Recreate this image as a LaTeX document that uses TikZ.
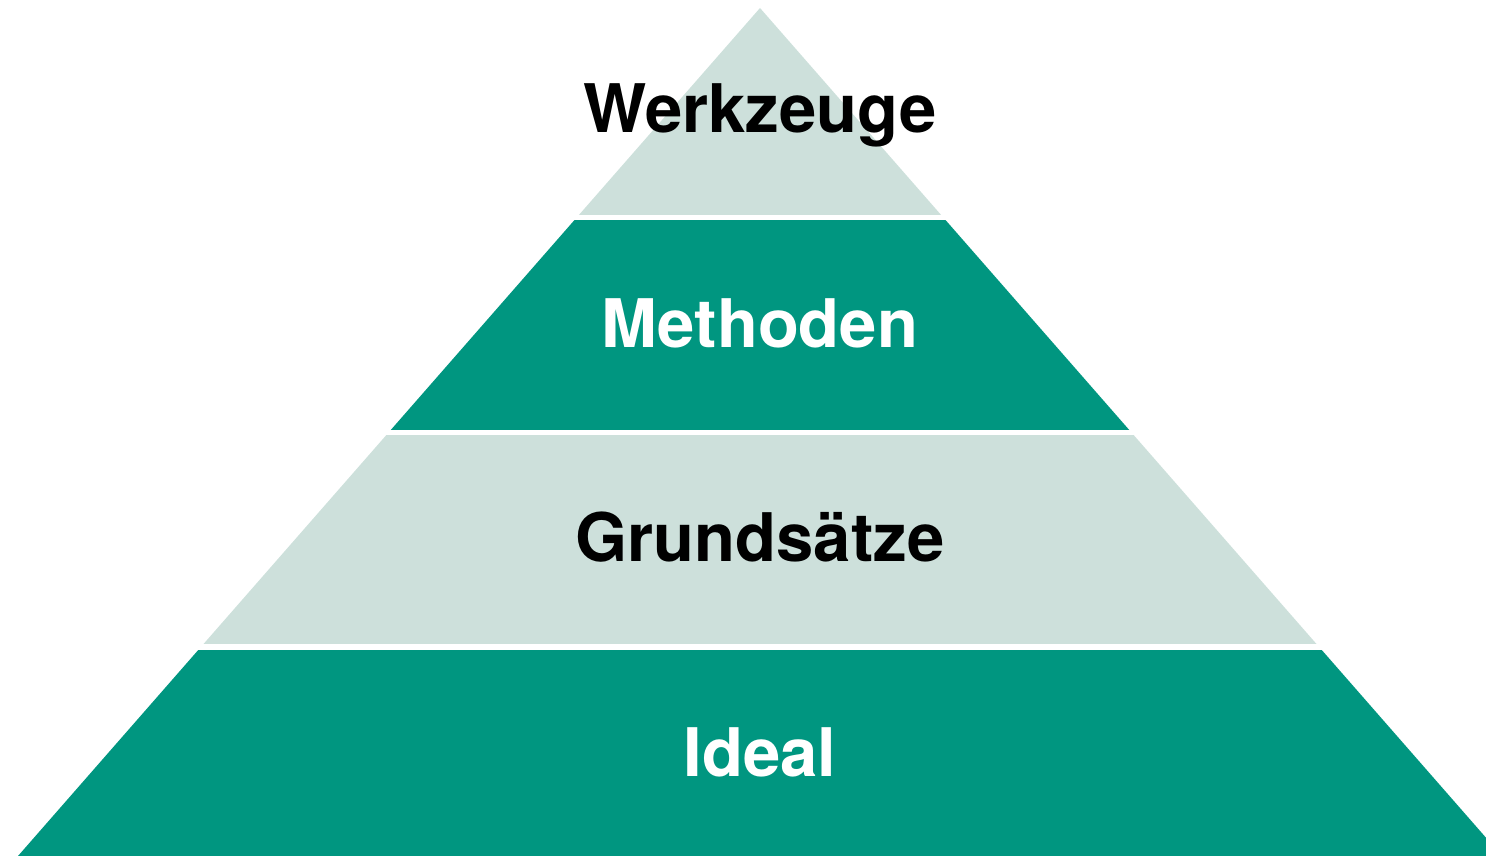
\documentclass[tikz,border=0pt]{standalone}
\usepackage{fontspec}
\setmainfont{TeX Gyre Heros}
\definecolor{pyrdark}{RGB}{0,150,128}
\definecolor{pyrlight}{RGB}{205,224,219}

\begin{document}
\begin{tikzpicture}[x=1pt,y=-1pt,
		layerlabel/.style={font=\fontsize{67}{80}\selectfont\bfseries, anchor=base}]
		\useasboundingbox (0,0) rectangle (1486,856);
		\begin{scope}
			\clip (760,8) -- (18,856) -- (1502,856) -- cycle;
			\fill[pyrlight] (0,0) rectangle (1486,215);
			\fill[pyrdark] (0,220) rectangle (1486,430);
			\fill[pyrlight] (0,435) rectangle (1486,644);
			\fill[pyrdark] (0,650) rectangle (1486,856);
		\end{scope}
		
		\node (werkzeuge) [layerlabel, text=black] at (760,132) {Werkzeuge};
		\node (methoden) [layerlabel, text=white] at (760,347) {Methoden};
		\node (grundsaetze) [layerlabel, text=black] at (760,561) {Grundsätze};
		\node (ideal) [layerlabel, text=white] at (760,776) {Ideal};
	\end{tikzpicture}
\end{document}
